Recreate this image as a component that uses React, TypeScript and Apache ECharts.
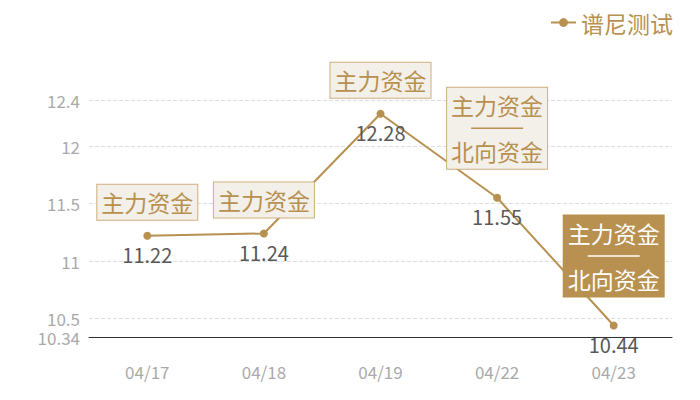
import * as echarts from 'echarts';
import { useEffect, useRef } from 'react';

const categories = ['04/17', '04/18', '04/19', '04/22', '04/23'];
const prices = [11.22, 11.24, 12.28, 11.55, 10.44];
const annotations = [
  ['主力资金'],
  ['主力资金'],
  ['主力资金'],
  ['主力资金', '北向资金'],
  ['主力资金', '北向资金'],
];
const highlightIndex = 4;
const yMin = 10.34;
const yMax = 12.4;

const GOLD = '#b8904f';
const FONT = '"Noto Sans CJK SC", "Noto Sans", sans-serif';

const App = () => {
  const chartRef = useRef<HTMLDivElement>(null);

  useEffect(() => {
    if (!chartRef.current) return;
    const chart = echarts.init(chartRef.current, undefined, { renderer: 'svg' });

    const noteData = prices.map((value, i) => {
      const lines = annotations[i];
      const active = i === highlightIndex;
      const color = active ? '#ffffff' : GOLD;
      return {
        value,
        label: {
          distance: lines.length > 1 ? 29 : 16,
          backgroundColor: active ? GOLD : '#f3efe9',
          borderColor: active ? GOLD : '#cfae7c',
          formatter: lines.map((t) => `{t|${t}}`).join('\n{sep| }\n'),
          rich: {
            t: { color, fontSize: 23, lineHeight: 29, fontFamily: FONT },
            sep: {
              fontSize: 1,
              lineHeight: 17,
              width: 52,
              height: 1.5,
              backgroundColor: color,
            },
          },
        },
      };
    });

    chart.setOption({
      animation: false,
      textStyle: { fontFamily: FONT },
      legend: {
        data: ['谱尼测试'],
        right: 22,
        top: 6,
        itemWidth: 25,
        itemHeight: 11,
        textStyle: { color: GOLD, fontSize: 23, fontFamily: FONT },
      },
      grid: { left: 89, right: 28, top: 100, bottom: 63 },
      xAxis: {
        type: 'category',
        data: categories,
        axisLine: { lineStyle: { color: '#333', width: 1 } },
        axisTick: { show: false },
        axisLabel: { color: '#aaaaaa', fontSize: 17, margin: 26, fontFamily: FONT },
      },
      yAxis: {
        type: 'value',
        min: yMin,
        max: yMax,
        axisLine: { show: false },
        axisTick: { show: false },
        axisLabel: { color: '#aaaaaa', fontSize: 17, margin: 9, fontFamily: FONT },
        splitLine: { lineStyle: { color: '#dddddd', type: 'dashed' } },
      },
      series: [
        {
          name: '谱尼测试',
          type: 'line',
          data: prices,
          symbol: 'circle',
          symbolSize: 8,
          itemStyle: { color: GOLD },
          lineStyle: { color: GOLD, width: 2 },
          label: {
            show: true,
            position: 'bottom',
            distance: 5,
            color: '#595959',
            fontSize: 20,
            fontFamily: FONT,
          },
          z: 3,
        },
        {
          name: 'notes',
          type: 'scatter',
          data: noteData,
          symbolSize: 0,
          silent: true,
          itemStyle: { opacity: 1 },
          label: {
            show: true,
            position: 'top',
            borderWidth: 1,
            padding: [3, 4],
            align: 'center',
          },
          z: 4,
        },
      ],
    });

    return () => {
      chart.dispose();
    };
  }, []);

  return <div ref={chartRef} style={{ width: 700, height: 400, margin: -8 }} />;
};

export default App;
